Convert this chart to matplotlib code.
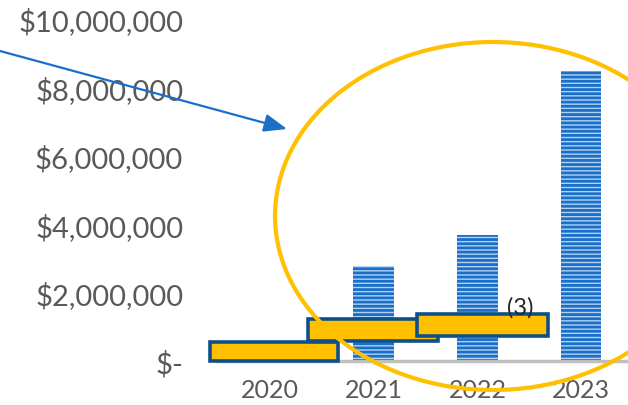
import matplotlib
matplotlib.use("Agg")
import matplotlib.pyplot as plt
from matplotlib.patches import Rectangle, Ellipse
from matplotlib.ticker import FuncFormatter

years = ["2020", "2021", "2022", "2023"]
revenue = [0, 2780000, 3680000, 8480000]

# highlighted boxes: (x start, x end, y low, y high) in category / dollar units
boxes = [
    (-0.58, 0.66, 0, 560000),
    (0.37, 1.62, 590000, 1230000),
    (1.42, 2.68, 730000, 1370000),
]
note = "(3)"

plt.rcParams['font.family'] = ['Lato', 'DejaVu Sans']
plt.rcParams['hatch.linewidth'] = 2.0

fig = plt.figure(figsize=(6.28, 4.06), dpi=100)
ax = fig.add_axes([218 / 628, 44 / 406, 415 / 628, 342 / 406])

x = range(len(years))
ax.bar(x, revenue, width=0.39, facecolor='#b3d2f2', edgecolor='#1a6fc9',
       linewidth=0, hatch='----', zorder=2)

for x0, x1, y0, y1 in boxes:
    ax.add_patch(Rectangle((x0, y0), x1 - x0, y1 - y0, facecolor='#ffc000',
                           edgecolor='#0d4f8b', linewidth=2.6, zorder=4,
                           clip_on=False))
ax.text(2.41, 1580000, note, fontsize=17, color='#262626', ha='center',
        va='center', zorder=5)

ax.set_xlim(-0.5, 3.5)
ax.set_ylim(0, 10000000)
ax.set_xticks(list(x))
ax.set_xticklabels(years)
ax.set_yticks(range(0, 10000001, 2000000))
ax.yaxis.set_major_formatter(
    FuncFormatter(lambda v, p: "$-" if v == 0 else f"${v:,.0f}"))
ax.tick_params(axis='y', length=0, pad=25, labelsize=21, labelcolor='#595959')
ax.tick_params(axis='x', length=0, pad=12, labelsize=18, labelcolor='#595959')
for s in ['top', 'right', 'left']:
    ax.spines[s].set_visible(False)
ax.spines['bottom'].set_color('#bfbfbf')
ax.spines['bottom'].set_linewidth(2.5)
ax.spines['bottom'].set_zorder(3)

# callout ellipse and arrow in figure coordinates
fig.patches.append(Ellipse((493 / 628, 189 / 406), 436 / 628, 348 / 406,
                           transform=fig.transFigure, fill=False,
                           edgecolor='#ffc000', linewidth=3, zorder=6))
fig.patches[-1].set_figure(fig)
ax.annotate('', xy=(287 / 628, 276 / 406), xytext=(0, 354 / 406),
            xycoords='figure fraction', textcoords='figure fraction',
            arrowprops=dict(arrowstyle='-|>,head_length=1.4,head_width=0.55',
                            color='#1a6fc9', lw=1.6, shrinkA=0, shrinkB=0),
            zorder=6)

fig.savefig('out.png', dpi=100)
